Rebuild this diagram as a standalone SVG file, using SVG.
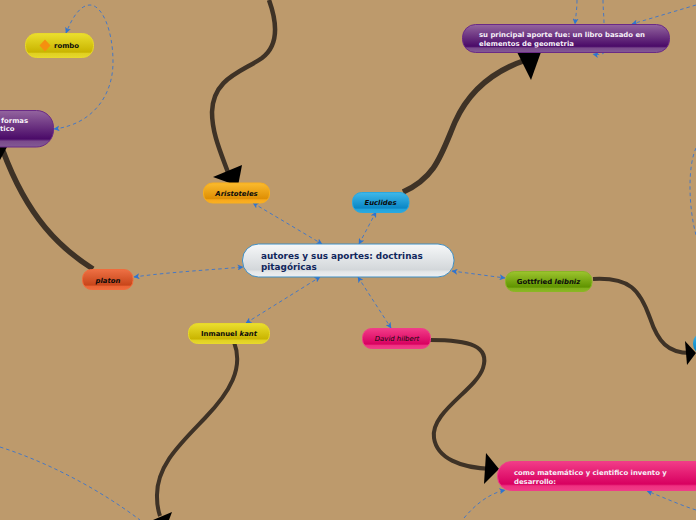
<svg xmlns="http://www.w3.org/2000/svg" width="696" height="520" viewBox="0 0 696 520">
<defs>
<linearGradient id="gY" x1="0" y1="0" x2="0" y2="1"><stop offset="0" stop-color="#ebdf2e"/><stop offset=".78" stop-color="#c9b400"/><stop offset=".82" stop-color="#e0d020"/><stop offset="1" stop-color="#e6d82c"/></linearGradient>
<linearGradient id="gP" x1="0" y1="0" x2="0" y2="1"><stop offset="0" stop-color="#94659f"/><stop offset=".78" stop-color="#4a0a68"/><stop offset=".84" stop-color="#7a4a8c"/><stop offset="1" stop-color="#835a94"/></linearGradient>
<linearGradient id="gO" x1="0" y1="0" x2="0" y2="1"><stop offset="0" stop-color="#fbbb2e"/><stop offset=".78" stop-color="#df8f04"/><stop offset=".84" stop-color="#f7a81a"/><stop offset="1" stop-color="#fbb024"/></linearGradient>
<linearGradient id="gB" x1="0" y1="0" x2="0" y2="1"><stop offset="0" stop-color="#40b8ea"/><stop offset=".78" stop-color="#0a87c6"/><stop offset=".84" stop-color="#22a4dc"/><stop offset="1" stop-color="#2aa8e0"/></linearGradient>
<linearGradient id="gR" x1="0" y1="0" x2="0" y2="1"><stop offset="0" stop-color="#ee7044"/><stop offset=".78" stop-color="#c8461a"/><stop offset=".84" stop-color="#ec6434"/><stop offset="1" stop-color="#f06c3c"/></linearGradient>
<linearGradient id="gG" x1="0" y1="0" x2="0" y2="1"><stop offset="0" stop-color="#9cc42e"/><stop offset=".78" stop-color="#609400"/><stop offset=".84" stop-color="#82b01c"/><stop offset="1" stop-color="#8ab624"/></linearGradient>
<linearGradient id="gK" x1="0" y1="0" x2="0" y2="1"><stop offset="0" stop-color="#f23c88"/><stop offset=".78" stop-color="#d80060"/><stop offset=".84" stop-color="#ee3080"/><stop offset="1" stop-color="#f03c88"/></linearGradient>
<linearGradient id="gW" x1="0" y1="0" x2="0" y2="1"><stop offset="0" stop-color="#f6f8f9"/><stop offset=".78" stop-color="#d3d7da"/><stop offset=".84" stop-color="#e4e7e9"/><stop offset="1" stop-color="#eef0f2"/></linearGradient>
<marker id="a" viewBox="0 0 6 6" refX="5.5" refY="3" markerWidth="6" markerHeight="6" orient="auto-start-reverse" markerUnits="userSpaceOnUse"><path d="M0 0L6 3L0 6L1.5 3Z" fill="#2f74cf"/></marker>
</defs>
<style>
text{font-family:"DejaVu Sans",sans-serif;font-weight:700;font-size:6.9px;fill:#0b0b0b}
.w{fill:#f6f0f8}
.c{font-size:8.85px;fill:#10265c}
.i{font-style:italic}
.d{fill:none;stroke:#4678c4;stroke-width:1;stroke-dasharray:3.5 3}
.t{fill:none;stroke:#3e3226;stroke-linecap:butt}
</style>
<rect width="696" height="520" fill="#bd9a6c"/>
<g id="connectors">
<path class="t" stroke-width="4.500" d="M269 0C278 25 278 46 262 58C242 72 213 78 212 112C212 135 222 155 230 178"/>
<path class="t" stroke-width="5.500" d="M403 192C436 177 441 155 455 122C468 93 490 72 526 60"/>
<path class="t" stroke-width="5.500" d="M93 269C60 248 28 218 3 151"/>
<path class="t" stroke-width="4" d="M234 342C244 368 230 392 205 418C180 444 156 466 157 497C157 505 158 510 160 516"/>
<path class="t" stroke-width="4" d="M430 340C470 340 490 346 483 368C476 390 430 412 434 438C437 458 460 468 492 469"/>
<path class="t" stroke-width="4" d="M593 279C630 277 640 290 650 318C658 342 668 353 690 353"/>
<polygon points="213,177 242,165 238,186" fill="#000"/>
<polygon points="517,52 541,52 531,80" fill="#000"/>
<polygon points="0,147 7,147 0,160" fill="#000"/>
<polygon points="153,520 172,512 169,520" fill="#000"/>
<polygon points="486,453 499,469 484,484" fill="#000"/>
<polygon points="685,341 696,353 687,365" fill="#000"/>
<path class="d" marker-start="url(#a)" marker-end="url(#a)" d="M54 129C90 125 113 98 113 62C113 30 102 5 90 5C80 5 72 18 66 33"/>
<path class="d" marker-start="url(#a)" marker-end="url(#a)" d="M253 203L322 244"/>
<path class="d" marker-start="url(#a)" marker-end="url(#a)" d="M376 212L359 244"/>
<path class="d" marker-start="url(#a)" marker-end="url(#a)" d="M134 277C170 272 210 270 243 267"/>
<path class="d" marker-start="url(#a)" marker-end="url(#a)" d="M246 323L320 277"/>
<path class="d" marker-start="url(#a)" marker-end="url(#a)" d="M358 277L391 328"/>
<path class="d" marker-start="url(#a)" marker-end="url(#a)" d="M452 271L505 278"/>
<path class="d" marker-end="url(#a)" d="M577 0C577 8 576 15 575 24"/>
<path class="d" d="M603 0C603 8 604 16 604 24"/>
<path class="d" marker-end="url(#a)" d="M696 5L632 24"/>
<path class="d" marker-end="url(#a)" d="M605 52C602 55 598 55 593 54"/>
<path class="d" d="M696 148C688 165 688 205 696 235"/>
<path class="d" d="M0 447C50 463 100 490 140 520"/>
<path class="d" marker-end="url(#a)" d="M464 518C475 505 488 494 505 490"/>
<path class="d" marker-end="url(#a)" d="M696 510C680 505 665 498 647 491"/>
</g>
<g id="n-rombo"><rect x="25.500" y="33.500" width="68" height="24" rx="11" fill="url(#gY)" stroke="#e8d92a"/><polygon points="45,39.500 50.500,45.500 45,51.500 39.500,45.500" fill="#f5900f"/><text x="54" y="48">rombo</text></g>
<g id="n-formas"><rect x="-60" y="110.500" width="113.500" height="36.500" rx="17" fill="url(#gP)" stroke="#6a2a86"/><text class="w"><tspan x="1" y="123">formas</tspan><tspan x="0" y="131">tico</tspan></text></g>
<g id="n-principal"><rect x="462.500" y="24.500" width="207" height="28" rx="13" fill="url(#gP)" stroke="#6a2a86"/><text class="w"><tspan x="479" y="37">su principal aporte fue: un libro basado en</tspan><tspan x="479" y="46">elementos de geometria</tspan></text></g>
<g id="n-aristoteles"><rect x="203.500" y="183" width="66" height="20" rx="9" fill="url(#gO)" stroke="#f8ae1c"/><text class="i" x="236.500" y="196" text-anchor="middle">Aristoteles</text></g>
<g id="n-euclides"><rect x="352.500" y="192.500" width="56.500" height="20" rx="9" fill="url(#gB)" stroke="#2aa8e0"/><text class="i" x="380.500" y="205" text-anchor="middle">Euclides</text></g>
<g id="n-platon"><rect x="82.500" y="269.500" width="50.500" height="20" rx="9" fill="url(#gR)" stroke="#f06c3c"/><text class="i" x="108" y="282.500" text-anchor="middle">platon</text></g>
<g id="n-central"><rect x="242.500" y="244" width="211.500" height="33" rx="16" fill="url(#gW)" stroke="#3f8fc4"/><text class="c"><tspan x="261" y="259">autores y sus aportes: doctrinas</tspan><tspan x="261" y="270">pitagóricas</tspan></text></g>
<g id="n-gottfried"><rect x="505.500" y="271.500" width="86.500" height="20" rx="9" fill="url(#gG)" stroke="#8ab624"/><text x="548.500" y="284" text-anchor="middle">Gottfried <tspan class="i">leibniz</tspan></text></g>
<g id="n-kant"><rect x="188.500" y="323.500" width="81" height="20" rx="9" fill="url(#gY)" stroke="#e8d92a"/><text x="229" y="336" text-anchor="middle">Inmanuel <tspan class="i">kant</tspan></text></g>
<g id="n-hilbert"><rect x="362.500" y="328.500" width="68" height="20" rx="9" fill="url(#gK)" stroke="#f03c88"/><text class="i" style="font-weight:400" x="397" y="341" text-anchor="middle">David hilbert</text></g>
<g id="n-invento"><rect x="497.500" y="461.500" width="240" height="29" rx="14" fill="url(#gK)" stroke="#f03c88"/><text class="w"><tspan x="514" y="475">como matemático y cientifico invento y</tspan><tspan x="514" y="484">desarrollo:</tspan></text></g>
<g id="n-azul"><rect x="693" y="332" width="40" height="23" rx="11" fill="url(#gB)"/></g>
</svg>
